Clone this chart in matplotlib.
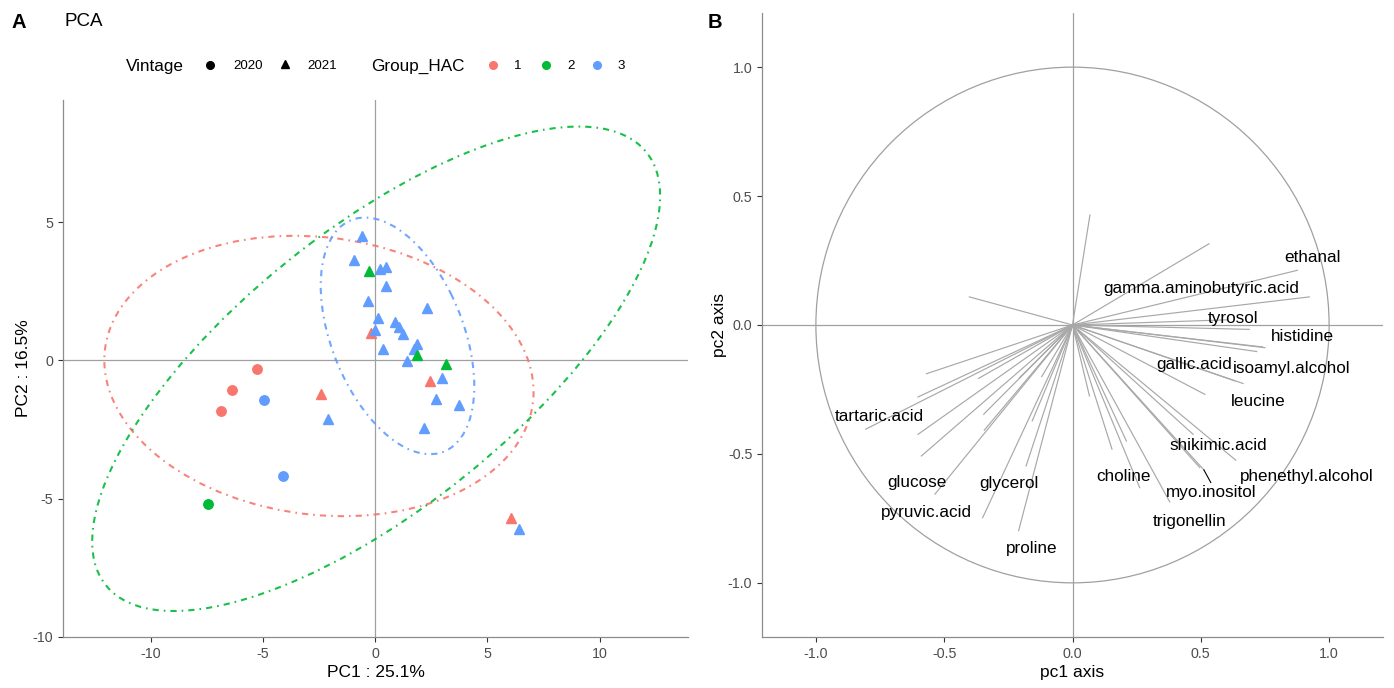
import numpy as np
import matplotlib
matplotlib.use("Agg")
import matplotlib.pyplot as plt
from matplotlib import patches

plt.rcParams['font.family'] = ['Liberation Sans', 'DejaVu Sans']
plt.rcParams['axes.unicode_minus'] = False

# ---------------- data: panel A (PCA scores) ----------------
pc1_label = "PC1 : 25.1%"
pc2_label = "PC2 : 16.5%"
vintage_levels = ["2020", "2021"]
group_levels = ["1", "2", "3"]

score_pc1 = [-5.26, -6.38, -6.87, -4.96, -4.11, -7.45,
             -0.59, -0.95, -0.25, 0.22, 0.48, 0.50, -0.30, 2.30, 0.13, 0.88,
             1.08, 1.26, -0.18, 0.00, 0.34, 1.86, 1.75, 1.87, 1.43, 3.15,
             2.45, 3.00, -2.41, -2.08, 2.72, 3.74, 2.18, 6.07, 6.40]
score_pc2 = [-0.30, -1.05, -1.82, -1.43, -4.19, -5.20,
             4.51, 3.65, 3.25, 3.31, 3.37, 2.68, 2.15, 1.89, 1.52, 1.38,
             1.20, 0.97, 1.00, 1.09, 0.40, 0.61, 0.40, 0.19, -0.02, -0.13,
             -0.73, -0.63, -1.20, -2.10, -1.41, -1.61, -2.45, -5.69, -6.10]
score_vintage = ["2020"] * 6 + ["2021"] * 29
score_group = ["1", "1", "1", "3", "3", "2",
               "3", "3", "2", "3", "3", "3", "3", "3", "3", "3",
               "3", "3", "1", "3", "3", "3", "3", "2", "3", "2",
               "1", "3", "1", "3", "3", "3", "3", "1", "3"]

# group ellipses: centre, half-extent in x and y, correlation
ell_group = ["1", "2", "3"]
ell_cx = [-2.50, 0.05, 1.00]
ell_cy = [-0.56, -0.30, 0.89]
ell_sx = [9.56, 12.65, 3.42]
ell_sy = [5.07, 8.76, 4.28]
ell_r = [-0.113, 0.713, -0.424]

# ---------------- data: panel B (variable loadings) ----------------
var_names = ["ethanal", "gamma.aminobutyric.acid", "tyrosol", "histidine",
             "gallic.acid", "isoamyl.alcohol", "leucine", "shikimic.acid",
             "phenethyl.alcohol", "choline", "myo.inositol", "trigonellin",
             "tartaric.acid", "glucose", "glycerol", "pyruvic.acid", "proline"]
var_pc1 = [0.876, 0.923, 0.689, 0.750, 0.633, 0.718, 0.516, 0.636,
           0.496, 0.262, 0.512, 0.379, -0.806, -0.536, -0.181, -0.350, -0.210]
var_pc2 = [0.212, 0.109, -0.017, -0.088, -0.217, -0.103, -0.269, -0.524,
           -0.553, -0.631, -0.562, -0.686, -0.404, -0.656, -0.547, -0.747, -0.798]
label_x = [0.934, 0.500, 0.625, 0.895, 0.473, 0.855, 0.723, 0.570,
           0.914, 0.199, 0.539, 0.457, -0.754, -0.605, -0.246, -0.570, -0.160]
label_y = [0.260, 0.140, 0.027, -0.043, -0.155, -0.167, -0.295, -0.469,
           -0.589, -0.589, -0.651, -0.764, -0.353, -0.612, -0.616, -0.729, -0.868]
# other (unlabelled) variables
other_pc1 = [0.068, 0.532, -0.402, -0.569, -0.602, -0.366, -0.602, -0.589,
             -0.346, -0.344, -0.157, 0.665, 0.470, 0.154, 0.210, 0.066,
             -0.207, -0.120, 0.740, 0.600]
other_pc2 = [0.427, 0.315, 0.109, -0.189, -0.279, -0.207, -0.424, -0.508,
             -0.346, -0.408, -0.372, -0.227, -0.424, -0.482, -0.450, -0.275,
             -0.205, -0.200, -0.085, 0.020]

# ---------------- styling ----------------
group_colors = {"1": "#F8766D", "2": "#00BA38", "3": "#619CFF"}
vintage_markers = {"2020": "o", "2021": "^"}
W, H = 1394, 688
fig = plt.figure(figsize=(W / 100, H / 100), dpi=100)

def fx(px):
    return px / W

def fy(py):
    return 1 - py / H

tick_col = "#4D4D4D"
spine_col = "#8C8C8C"

def style_axes(ax):
    for s in ["top", "right"]:
        ax.spines[s].set_visible(False)
    for s in ["left", "bottom"]:
        ax.spines[s].set_color(spine_col)
        ax.spines[s].set_linewidth(0.9)
    ax.tick_params(colors="#333333", labelcolor=tick_col, labelsize=10.3,
                   length=3.5, width=0.8)

# ---------------- panel A ----------------
axA = fig.add_axes([fx(63), fy(637), (688 - 63) / W, (637 - 100) / H])
style_axes(axA)
axA.set_xlim(-13.90, 13.94)
axA.set_ylim(-9.96, 9.42)
axA.axhline(0, color="#A0A0A0", lw=0.9, zorder=1)
axA.axvline(0, color="#A0A0A0", lw=0.9, zorder=1)
axA.set_xticks([-10, -5, 0, 5, 10])
axA.set_yticks([-10, -5, 0, 5])

for g, cx, cy, sx, sy, r in zip(ell_group, ell_cx, ell_cy, ell_sx, ell_sy, ell_r):
    S = np.array([[sx * sx, r * sx * sy], [r * sx * sy, sy * sy]])
    vals, vecs = np.linalg.eigh(S)
    ang = np.degrees(np.arctan2(vecs[1, 1], vecs[0, 1]))
    e = patches.Ellipse((cx, cy), 2 * np.sqrt(vals[1]), 2 * np.sqrt(vals[0]),
                        angle=ang, fill=False, edgecolor=group_colors[g],
                        lw=1.5, linestyle=(0, (3.0, 2.4, 0.8, 2.4)), zorder=2,
                        alpha=0.9)
    axA.add_patch(e)

for x, y, v, g in zip(score_pc1, score_pc2, score_vintage, score_group):
    m = vintage_markers[v]
    axA.plot(x, y, marker=m, ms=7.4 if m == "^" else 6.8, color=group_colors[g],
             mec=group_colors[g], ls="none", zorder=3)

axA.set_xlabel(pc1_label, fontsize=12.5)
axA.set_ylabel(pc2_label, fontsize=12.5)
axA.xaxis.set_label_coords(0.5, (637 - 665) / 537)
axA.yaxis.set_label_coords((31 - 63) / 625, 0.5)

fig.text(fx(65), fy(21), "PCA", fontsize=13.5, va="center", ha="left")
fig.text(fx(11), fy(23), "A", fontsize=14.5, fontweight="bold", va="center", ha="left")
fig.text(fx(708), fy(23), "B", fontsize=14.5, fontweight="bold", va="center", ha="left")

# legend (top)
leg_y = 66
fig.text(fx(126), fy(leg_y), "Vintage", fontsize=12.3, va="center", ha="left")
legax = fig.add_axes([0, 0, 1, 1])
legax.set_xlim(0, W)
legax.set_ylim(H, 0)
legax.axis("off")
legax.plot(210, leg_y - 1, marker="o", ms=5.5, color="black", ls="none")
fig.text(fx(233), fy(leg_y), vintage_levels[0], fontsize=9.6, va="center", ha="left")
legax.plot(285, leg_y - 2, marker="^", ms=6.0, color="black", ls="none")
fig.text(fx(307), fy(leg_y), vintage_levels[1], fontsize=9.6, va="center", ha="left")
fig.text(fx(371), fy(leg_y), "Group_HAC", fontsize=12.3, va="center", ha="left")
for px, g in zip([493, 546, 597], group_levels):
    legax.plot(px, leg_y - 1, marker="o", ms=5.5, color=group_colors[g], ls="none")
    fig.text(fx(px + 21), fy(leg_y), g, fontsize=9.6, va="center", ha="left")

# ---------------- panel B ----------------
axB = fig.add_axes([fx(762), fy(637), (1383 - 762) / W, (637 - 13) / H])
style_axes(axB)
axB.set_xlim(-1.21, 1.21)
axB.set_ylim(-1.21, 1.21)
axB.set_xticks([-1.0, -0.5, 0.0, 0.5, 1.0])
axB.set_yticks([-1.0, -0.5, 0.0, 0.5, 1.0])
axB.set_xticklabels(["-1.0", "-0.5", "0.0", "0.5", "1.0"])
axB.set_yticklabels(["-1.0", "-0.5", "0.0", "0.5", "1.0"])
axB.axhline(0, color="#A0A0A0", lw=0.9, zorder=1)
axB.axvline(0, color="#A0A0A0", lw=0.9, zorder=1)
axB.add_patch(patches.Circle((0, 0), 1.0, fill=False, edgecolor="#A0A0A0", lw=0.9))

arrow_col = "#A8A8A8"
for x, y in zip(other_pc1, other_pc2):
    axB.plot([0, x], [0, y], color=arrow_col, lw=0.85, zorder=2)
for x, y in zip(var_pc1, var_pc2):
    axB.plot([0, x], [0, y], color=arrow_col, lw=0.85, zorder=2)
for name, lx, ly, x, y in zip(var_names, label_x, label_y, var_pc1, var_pc2):
    axB.text(lx, ly, name, fontsize=12.3, ha="center", va="center", color="black", zorder=4)
    if name == "myo.inositol":
        axB.plot([x, lx], [y, ly + 0.04], color="black", lw=0.8, zorder=3)

axB.set_xlabel("pc1 axis", fontsize=12.5)
axB.set_ylabel("pc2 axis", fontsize=12.5)
axB.xaxis.set_label_coords(0.5, (637 - 665) / 624)
axB.yaxis.set_label_coords((727 - 762) / 621, 0.5)

fig.savefig("out.png", dpi=100)
